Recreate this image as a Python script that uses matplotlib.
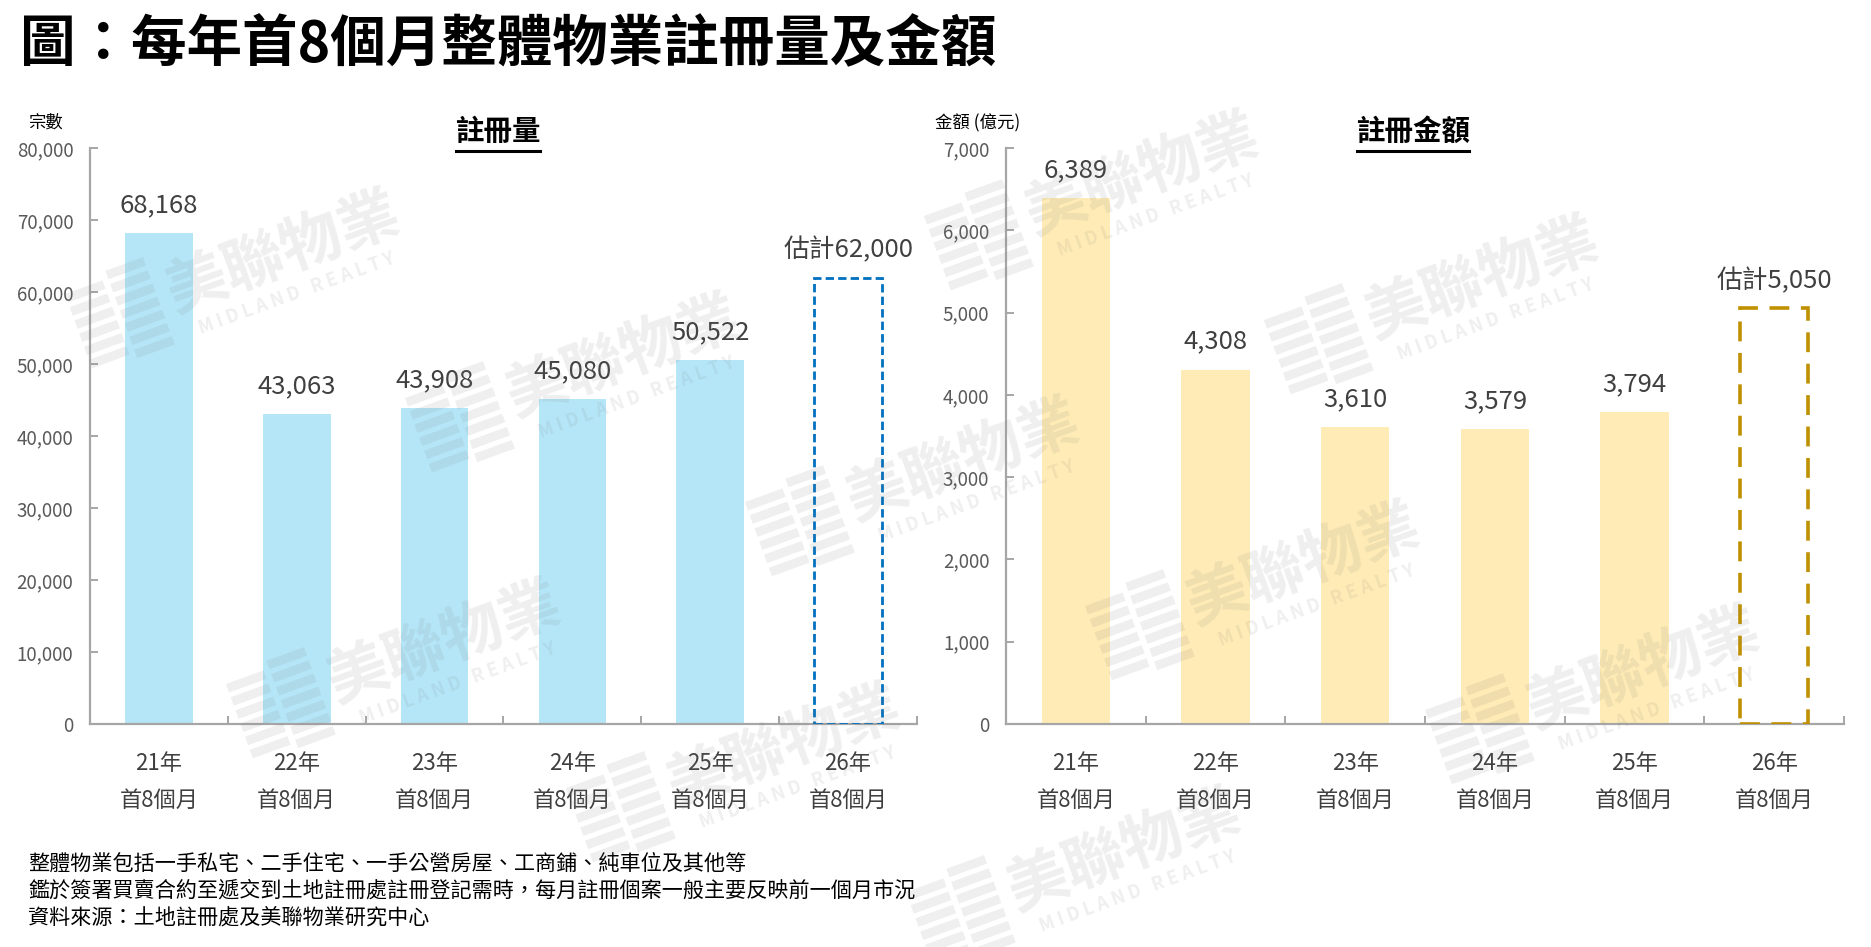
import numpy as np
import matplotlib
matplotlib.use("Agg")
import matplotlib.pyplot as plt
from matplotlib.patches import Rectangle
from matplotlib.transforms import Affine2D

plt.rcParams['font.family'] = ['Noto Sans CJK TC', 'DejaVu Sans']

# data
years = ["21年", "22年", "23年", "24年", "25年", "26年"]
period = "首8個月"
reg_count = [68168, 43063, 43908, 45080, 50522]
reg_count_est = 62000
reg_amount = [6389, 4308, 3610, 3579, 3794]
reg_amount_est = 5050

notes = [
    "整體物業包括一手私宅、二手住宅、一手公營房屋、工商鋪、純車位及其他等",
    "鑑於簽署買賣合約至遞交到土地註冊處註冊登記需時，每月註冊個案一般主要反映前一個月市況",
    "資料來源：土地註冊處及美聯物業研究中心",
]

W, H = 1871, 947
fig = plt.figure(figsize=(W / 100, H / 100), dpi=100)
fig.patch.set_facecolor("white")

AXIS_GREY = "#A6A6A6"
TICK_TXT = "#595959"
LABEL_TXT = "#404040"


def px(x, y):
    return x / W, 1 - y / H


def setup_axes(ax, ymax, ystep):
    n = len(years)
    ax.set_xlim(-0.5, n - 0.5)
    ax.set_ylim(0, ymax)
    for s in ["top", "right"]:
        ax.spines[s].set_visible(False)
    for s in ["left", "bottom"]:
        ax.spines[s].set_color(AXIS_GREY)
        ax.spines[s].set_linewidth(1.6)
    ax.set_yticks(np.arange(0, ymax + 1, ystep))
    ax.yaxis.set_major_formatter(matplotlib.ticker.FuncFormatter(lambda v, p: f"{int(v):,}"))
    ax.tick_params(axis="y", direction="in", length=6, width=1.4, color=AXIS_GREY,
                   labelsize=13.5, labelcolor=TICK_TXT, pad=12)
    # boundary ticks on x, labels at centers
    ax.set_xticks(np.arange(-0.5, n, 1.0))
    ax.set_xticklabels([])
    ax.tick_params(axis="x", which="major", direction="in", length=6, width=1.4, color=AXIS_GREY)
    ax.set_xticks(np.arange(n), minor=True)
    ax.set_xticklabels([f"{y}\n{period}" for y in years], minor=True)
    ax.tick_params(axis="x", which="minor", length=0, labelsize=16, labelcolor=LABEL_TXT, pad=20)
    for lbl in ax.get_xticklabels(minor=True):
        lbl.set_linespacing(1.78)


def draw_bars(ax, vals, est, color, ecolor, lw, dash, fmt):
    x = np.arange(len(vals))
    ax.bar(x, vals, width=0.49, color=color, zorder=2)
    xe = len(vals)
    ax.bar(xe, est, width=0.49, fill=False, edgecolor=ecolor, linewidth=lw,
           linestyle=(0, dash), zorder=3)
    for xi, v in zip(x, vals):
        ax.annotate(fmt(v), (xi, v), xytext=(0, 20), textcoords="offset points",
                    ha="center", va="center", fontsize=18.5, color=LABEL_TXT)
    ax.annotate("估計" + fmt(est), (xe, est), xytext=(0, 20), textcoords="offset points",
                ha="center", va="center", fontsize=18.5, color=LABEL_TXT)


fmt = lambda v: f"{v:,}"

ax1 = fig.add_axes([90 / W, 1 - 724 / H, 827 / W, 576 / H])
setup_axes(ax1, 80000, 10000)
draw_bars(ax1, reg_count, reg_count_est, "#B5E6F8", "#0070C0", 2.0, (3, 1.5), fmt)

ax2 = fig.add_axes([1006 / W, 1 - 724 / H, 838 / W, 576 / H])
setup_axes(ax2, 7000, 1000)
draw_bars(ax2, reg_amount, reg_amount_est, "#FFEBB5", "#BF9000", 2.6, (5.5, 3.2), fmt)

# titles and units
fig.text(*px(20, 45), "圖：每年首8個月整體物業註冊量及金額", fontsize=40, fontweight="bold",
         ha="left", va="center", color="black")
for cx, s in [(498, "註冊量"), (1413, "註冊金額")]:
    fig.text(*px(cx, 132), s, fontsize=20.5, fontweight="bold", ha="center", va="center",
             color="black")
    wlen = len(s) * 28
    fig.add_artist(matplotlib.lines.Line2D([(cx - wlen / 2) / W, (cx + wlen / 2) / W],
                                           [1 - 151 / H, 1 - 151 / H], color="black", lw=2.2))
fig.text(*px(45, 123), "宗數", fontsize=12.5, ha="center", va="center", color="black")
fig.text(*px(978, 123), "金額 (億元)", fontsize=12.5, ha="center", va="center", color="black")

for i, line in enumerate(notes):
    fig.text(*px(28, 865 + 26 * i), line, fontsize=15.2, ha="left", va="center", color="black")

# faint watermark tiles (logo stripes + name), skipped where they would leave the picture
ANG = 20
WM_COL = "#7F7F7F"
WM_A = 0.12
a = np.array([340, 104])
b = np.array([-179, 286])
origin = np.array([283, 253])
d = np.array([np.cos(np.radians(ANG)), -np.sin(np.radians(ANG))])
for i in range(-4, 7):
    for j in range(-3, 4):
        cx, cy = origin + i * a + j * b
        lx, ly = np.array([cx, cy]) - 175 * d
        if not (lx - 60 > 0 and cx + 150 < W and cy - 95 > 0 and cy + 80 < H):
            continue
        fig.text(*px(cx, cy), "美聯物業", fontsize=44, fontweight="bold", rotation=ANG,
                 ha="center", va="center", color=WM_COL, alpha=WM_A, zorder=10)
        fig.text(*px(cx + 14, cy + 40), "M I D L A N D   R E A L T Y", fontsize=13,
                 fontweight="bold", rotation=ANG, ha="center", va="center",
                 color=WM_COL, alpha=WM_A, zorder=10)
        tr = Affine2D().rotate_deg(ANG).translate(lx, H - ly)
        for u0, v_top, nstripe in [(-44, 36, 6), (2, 44, 7)]:
            for k in range(nstripe):
                top = v_top - k * 14
                fig.add_artist(Rectangle((u0, top - 9), 40, 9, transform=tr,
                                         facecolor=WM_COL, alpha=WM_A, lw=0, zorder=10))

fig.savefig("out.png", dpi=100)
